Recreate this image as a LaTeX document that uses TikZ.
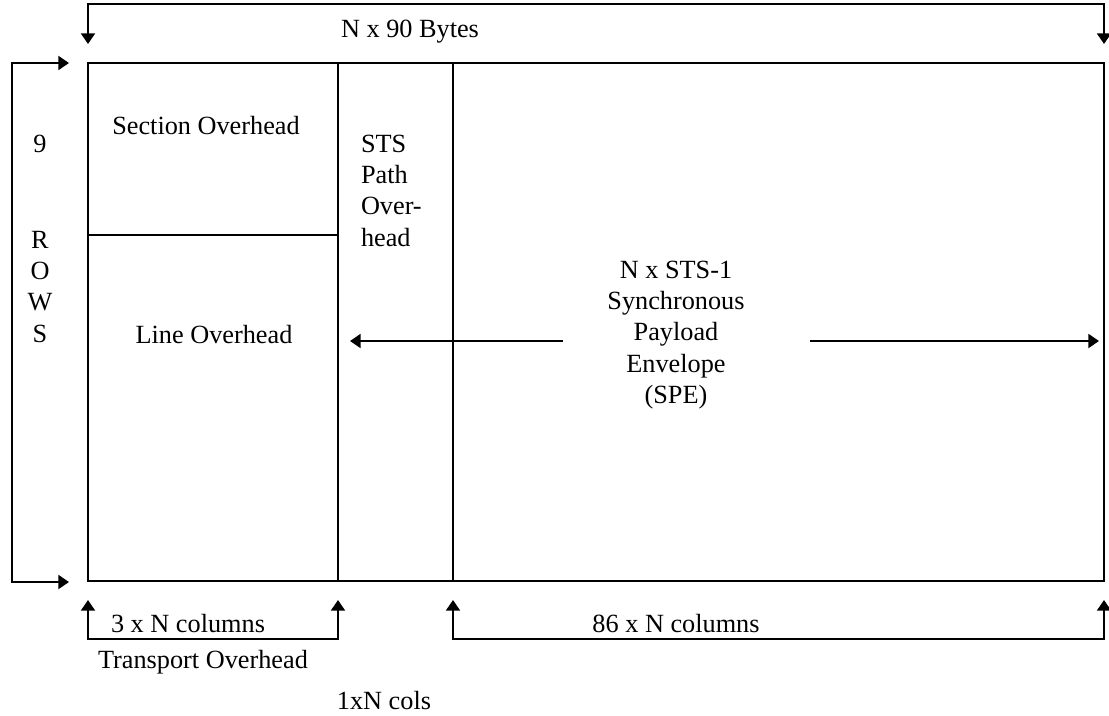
\documentclass[tikz,border=0pt]{standalone}
\usepackage{fontspec}
\setmainfont{Liberation Serif}
\usetikzlibrary{arrows.meta}
\begin{document}
\begin{tikzpicture}[x=0.75pt,y=-0.75pt,
  line width=1.5pt,
  lbl/.style={inner sep=0pt,anchor=base,font=\fontsize{19.7}{23.6}\selectfont},
  tip/.tip={Triangle[length=8pt,width=10.5pt]},
  dim/.style={tip-tip},
  ptr/.style={-tip},
]
\useasboundingbox (0,0) rectangle (1109,715);

% frame corners and column/row boundaries
\coordinate (frameNW) at (88,63);
\coordinate (frameSE) at (1104,581);
\coordinate (colA top) at (338,63);
\coordinate (colA bot) at (338,581);
\coordinate (colB top) at (453,63);
\coordinate (colB bot) at (453,581);
\coordinate (rowdiv W) at (88,235);
\coordinate (rowdiv E) at (338,235);

\draw (frameNW) rectangle (frameSE);
\draw (colA top) -- (colA bot);
\draw (colB top) -- (colB bot);
\draw (rowdiv W) -- (rowdiv E);

% top dimension: N x 90 Bytes
\coordinate (topL) at (88,44);
\coordinate (topR) at (1104,44);
\draw[dim] (topL) -- (88,4) -- (1104,4) -- (topR);
\node[lbl] (bytes) at (410,37) {N x 90 Bytes};

% left dimension: 9 rows
\coordinate (leftT) at (69,63);
\coordinate (leftB) at (69,582);
\draw[dim] (leftT) -- (12,63) -- (12,582) -- (leftB);
\node[lbl] (nine) at (40,152) {9};
\node[lbl] (rows) at (40,248) {\begin{tabular}[t]{@{}c@{}}R\\O\\W\\S\end{tabular}};

% region labels
\node[lbl] (soh) at (206,134) {Section Overhead};
\node[lbl] (loh) at (214,343) {Line Overhead};
\node[lbl,anchor=base west] (poh) at (360,152)
  {\begin{tabular}[t]{@{}l@{}}STS\\Path\\Over-\\head\end{tabular}};
\node[lbl] (spe) at (676,278)
  {\begin{tabular}[t]{@{}c@{}}N x STS-1\\Synchronous\\Payload\\Envelope\\(SPE)\end{tabular}};

% SPE extent arrows
\coordinate (speL) at (563,341);
\coordinate (speLtip) at (350,341);
\coordinate (speR) at (810,341);
\coordinate (speRtip) at (1099,341);
\draw[ptr] (speL) -- (speLtip);
\draw[ptr] (speR) -- (speRtip);

% bottom dimensions
\coordinate (b1L) at (88,600);
\coordinate (b1R) at (338,600);
\coordinate (b2L) at (453,600);
\coordinate (b2R) at (1104,600);
\draw[dim] (b1L) -- (88,639) -- (338,639) -- (b1R);
\draw[dim] (b2L) -- (453,639) -- (1104,639) -- (b2R);
\node[lbl] (toh cols) at (188,632) {3 x N columns};
\node[lbl] (spe cols) at (676,632) {86 x N columns};
\node[lbl] (toh) at (203,668) {Transport Overhead};
\node[lbl] (poh cols) at (384,709) {1xN cols};
\end{tikzpicture}
\end{document}
